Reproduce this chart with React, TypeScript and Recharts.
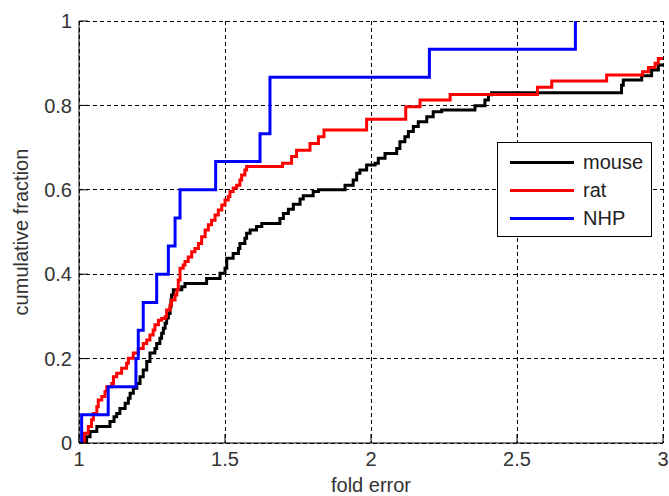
import React from 'react';
import { LineChart, Line, XAxis, YAxis, CartesianGrid, Legend } from 'recharts';

// axis ticks
const xTicks = [1, 1.5, 2, 2.5, 3];
const yTicks = [0, 0.2, 0.4, 0.6, 0.8, 1];

// step positions (fold error) and cumulative fraction after each step
const mouseX = [1.026, 1.026, 1.038, 1.061, 1.106, 1.12, 1.129, 1.14, 1.158, 1.169, 1.175, 1.186, 1.198, 1.209, 1.22, 1.232, 1.243, 1.26, 1.266, 1.277, 1.283, 1.289, 1.295, 1.3, 1.306, 1.312, 1.315, 1.317, 1.323, 1.352, 1.363, 1.437, 1.483, 1.5, 1.506, 1.528, 1.546, 1.551, 1.568, 1.574, 1.586, 1.608, 1.626, 1.688, 1.7, 1.717, 1.734, 1.757, 1.768, 1.802, 1.82, 1.911, 1.939, 1.951, 1.962, 1.985, 2.014, 2.025, 2.048, 2.088, 2.099, 2.116, 2.128, 2.145, 2.162, 2.191, 2.213, 2.242, 2.356, 2.39, 2.402, 2.413, 2.858, 2.864, 2.927, 2.961, 2.984, 3.0];
const mouseY = [0, 0.015, 0.027, 0.039, 0.051, 0.062, 0.07, 0.082, 0.094, 0.106, 0.118, 0.13, 0.141, 0.157, 0.173, 0.193, 0.213, 0.224, 0.236, 0.248, 0.26, 0.272, 0.284, 0.296, 0.307, 0.323, 0.339, 0.351, 0.363, 0.37, 0.378, 0.39, 0.402, 0.414, 0.438, 0.449, 0.461, 0.473, 0.485, 0.497, 0.505, 0.513, 0.52, 0.532, 0.544, 0.554, 0.566, 0.578, 0.586, 0.596, 0.6, 0.611, 0.623, 0.639, 0.647, 0.659, 0.663, 0.675, 0.686, 0.698, 0.714, 0.726, 0.738, 0.75, 0.761, 0.773, 0.785, 0.789, 0.799, 0.813, 0.825, 0.83, 0.848, 0.86, 0.87, 0.884, 0.896, 0.896];

const ratX = [1.018, 1.018, 1.032, 1.043, 1.049, 1.061, 1.066, 1.078, 1.089, 1.095, 1.112, 1.118, 1.129, 1.146, 1.163, 1.169, 1.186, 1.203, 1.22, 1.232, 1.243, 1.254, 1.26, 1.272, 1.283, 1.295, 1.3, 1.312, 1.317, 1.329, 1.335, 1.34, 1.346, 1.357, 1.363, 1.374, 1.386, 1.397, 1.409, 1.42, 1.432, 1.443, 1.454, 1.466, 1.477, 1.489, 1.5, 1.511, 1.517, 1.528, 1.54, 1.551, 1.557, 1.568, 1.574, 1.697, 1.728, 1.745, 1.791, 1.82, 1.839, 1.985, 2.119, 2.168, 2.271, 2.57, 2.619, 2.807, 2.93, 2.95, 2.973, 2.984, 3.0];
const ratY = [0, 0.023, 0.039, 0.055, 0.07, 0.086, 0.102, 0.11, 0.122, 0.133, 0.141, 0.157, 0.165, 0.177, 0.189, 0.201, 0.213, 0.224, 0.236, 0.244, 0.256, 0.268, 0.28, 0.291, 0.295, 0.299, 0.315, 0.327, 0.339, 0.351, 0.363, 0.386, 0.414, 0.422, 0.43, 0.441, 0.453, 0.461, 0.473, 0.489, 0.505, 0.517, 0.528, 0.54, 0.552, 0.564, 0.576, 0.584, 0.596, 0.604, 0.611, 0.623, 0.635, 0.647, 0.655, 0.663, 0.679, 0.694, 0.71, 0.726, 0.742, 0.767, 0.797, 0.813, 0.826, 0.843, 0.858, 0.872, 0.88, 0.89, 0.9, 0.911, 0.911];

const nhpX = [1.009, 1.009, 1.1, 1.195, 1.203, 1.22, 1.266, 1.306, 1.329, 1.346, 1.468, 1.62, 1.654, 2.2, 2.7];
const nhpY = [0, 0.067, 0.133, 0.2, 0.267, 0.333, 0.4, 0.467, 0.533, 0.6, 0.667, 0.733, 0.867, 0.933, 1];

const toPoints = (xs: number[], ys: number[]) => xs.map((x, i) => ({ x, y: ys[i] }));

const series = [
    { name: 'mouse', color: '#000000', data: toPoints(mouseX, mouseY) },
    { name: 'rat', color: '#ff0000', data: toPoints(ratX, ratY) },
    { name: 'NHP', color: '#0000ff', data: toPoints(nhpX, nhpY) },
];

const FONT = '"Liberation Sans", Arial, sans-serif';
const tickStyle = { fill: '#333', fontSize: 20, fontFamily: FONT };
const noLabel = () => <g />;

const LegendBox = () => (
    <div style={{ width: 141, height: 88, padding: '5px 0 0 12px', border: '1px solid #000', background: '#fff', fontFamily: FONT, fontSize: 20, color: '#222', boxSizing: 'content-box' }}>
        {series.map(s => (
            <div key={s.name} style={{ display: 'flex', alignItems: 'center', height: 28 }}>
                <div style={{ width: 64, height: 3, background: s.color, marginRight: 9 }} />
                <span style={{ lineHeight: '20px' }}>{s.name}</span>
            </div>
        ))}
    </div>
);

export default function App() {
    return (
        <div style={{ position: 'absolute', left: 0, top: 0, width: 669, height: 496, background: '#fff' }}>
            <LineChart width={669} height={496} margin={{ top: 21, right: 6, bottom: 0, left: 0 }}>
                <CartesianGrid stroke="#000" strokeDasharray="4 3" shapeRendering="crispEdges" />
                <XAxis
                    dataKey="x"
                    type="number"
                    domain={[1, 3]}
                    ticks={xTicks}
                    allowDataOverflow
                    height={53}
                    stroke="#000"
                    tickSize={-9}
                    tickMargin={18}
                    tick={tickStyle}
                    label={{ value: 'fold error', position: 'insideBottom', offset: 4, fill: '#333', fontSize: 20, fontFamily: FONT }}
                />
                <XAxis xAxisId="top" orientation="top" type="number" domain={[1, 3]} ticks={xTicks} height={0} stroke="#000" tickSize={-9} tick={noLabel} />
                <YAxis
                    type="number"
                    domain={[0, 1]}
                    ticks={yTicks}
                    allowDataOverflow
                    width={79}
                    stroke="#000"
                    tickSize={-9}
                    tickMargin={16}
                    tick={tickStyle}
                    label={{ value: 'cumulative fraction', angle: -90, position: 'insideLeft', offset: 21, fill: '#333', fontSize: 20, fontFamily: FONT, style: { textAnchor: 'middle' } }}
                />
                <YAxis yAxisId="right" orientation="right" type="number" domain={[0, 1]} ticks={yTicks} width={0} stroke="#000" tickSize={-9} tick={noLabel} />
                {series.map(s => (
                    <Line
                        key={s.name}
                        data={s.data}
                        dataKey="y"
                        name={s.name}
                        type="stepAfter"
                        stroke={s.color}
                        strokeWidth={3}
                        dot={false}
                        activeDot={false}
                        isAnimationActive={false}
                    />
                ))}
                <Legend
                    layout="horizontal"
                    verticalAlign="middle"
                    align="center"
                    wrapperStyle={{ left: 497, top: 142, width: 155 }}
                    content={() => <LegendBox />}
                />
            </LineChart>
        </div>
    );
}
